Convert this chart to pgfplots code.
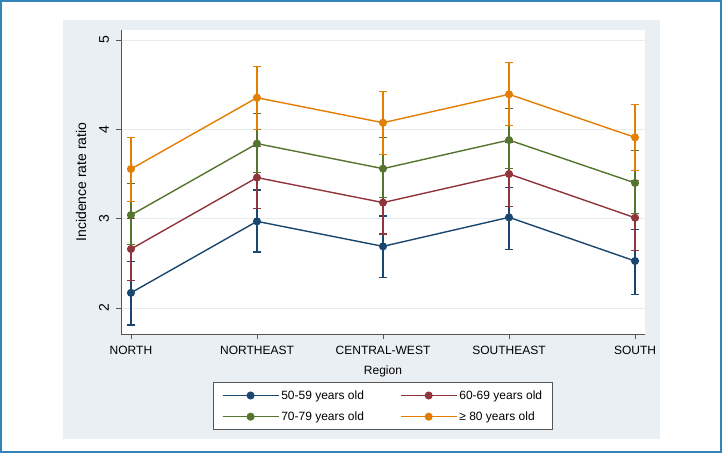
\documentclass[border=0pt]{standalone}
\usepackage{fontspec}
\setmainfont{Liberation Sans}
\usepackage{pgfplots}
\usepackage{pgfplotstable}
\pgfplotsset{compat=1.18}

\definecolor{frameblue}{RGB}{52,132,186}
\definecolor{panel}{RGB}{233,239,242}
\definecolor{gridc}{RGB}{230,237,240}
\definecolor{axisc}{RGB}{85,85,85}
\definecolor{snavy}{RGB}{26,71,111}
\definecolor{smaroon}{RGB}{144,53,59}
\definecolor{sgreen}{RGB}{85,117,47}
\definecolor{sorange}{RGB}{227,126,0}

% region index, incidence rate ratio, lower and upper 95% limits
\pgfplotstableread{
x  y      lo     hi
0  2.170  1.810  2.520
1  2.970  2.627  3.320
2  2.690  2.340  3.030
3  3.015  2.657  3.350
4  2.526  2.150  2.880
}\agefifty
\pgfplotstableread{
x  y      lo     hi
0  2.660  2.310  3.000
1  3.460  3.110  3.810
2  3.180  2.830  3.560
3  3.500  3.140  3.850
4  3.010  2.640  3.430
}\agesixty
\pgfplotstableread{
x  y      lo     hi
0  3.040  2.710  3.390
1  3.840  3.520  4.180
2  3.560  3.240  3.910
3  3.880  3.560  4.230
4  3.400  3.060  3.760
}\ageseventy
\pgfplotstableread{
x  y      lo     hi
0  3.556  3.190  3.906
1  4.354  4.000  4.700
2  4.074  3.720  4.420
3  4.392  4.040  4.750
4  3.910  3.540  4.280
}\ageeighty

\begin{document}
\begin{tikzpicture}[x=1pt,y=1pt]
  % page frame and graph region
  \fill[white] (0,0) rectangle (722,453);
  \draw[frameblue, line width=1.6pt] (0.8,0.8) rectangle (721.2,452.2);
  \fill[panel] (63,14) rectangle (660,433);

  \begin{axis}[
    at={(121pt,119pt)}, anchor=south west,
    scale only axis, width=524pt, height=304pt,
    xmin=-0.079, xmax=4.079, ymin=1.709, ymax=5.112,
    axis lines*=left,
    axis line style={axisc, line width=0.9pt},
    axis background/.style={fill=white},
    tick align=outside, major tick length=5pt,
    tick style={axisc, line width=0.9pt},
    xtick={0,1,2,3,4},
    xticklabels={NORTH,NORTHEAST,CENTRAL-WEST,SOUTHEAST,SOUTH},
    ytick={2,3,4,5},
    ymajorgrids,
    grid style={gridc, line width=0.9pt},
    /pgf/number format/assume math mode=true,
    xticklabel style={font=\fontsize{12}{14}\selectfont, anchor=base, inner sep=0pt, yshift=-15pt},
    yticklabel style={font=\fontsize{14}{16}\selectfont, inner sep=0pt, xshift=-7pt, rotate=90, anchor=base},
    xlabel={Region},
    ylabel={Incidence rate ratio},
    every axis x label/.style={at={(rel axis cs:0.5,0)}, anchor=center, yshift=-37pt, font=\fontsize{12}{14}\selectfont},
    every axis y label/.style={at={(rel axis cs:0,0.5)}, xshift=-40pt, rotate=90, anchor=center, font=\fontsize{14}{16}\selectfont},
    clip=false,
    legend columns=2,
    legend cell align=left,
    legend style={
      at={(rel axis cs:0.5,0)}, anchor=north, yshift=-48pt,
      draw=axisc, line width=0.8pt, fill=white,
      font=\fontsize{12}{14}\selectfont,
      inner xsep=8pt, inner ysep=6pt,
      row sep=7pt,
      /tikz/every even column/.append style={column sep=34pt},
      nodes={inner sep=2pt},
    },
    legend image code/.code={
      \draw[line width=1.4pt] (0pt,0pt) -- (56pt,0pt);
      \fill (28pt,0pt) circle (3.3pt);
    },
    every axis plot/.append style={
      line width=1.4pt,
      mark=*, mark size=3.3pt,
      error bars/y dir=both,
      error bars/y explicit,
      error bars/error bar style={line width=1.3pt},
      error bars/error mark options={rotate=90, mark size=3.6pt, line width=1.3pt},
    },
  ]
    \addplot[snavy, mark options={fill=snavy, draw=snavy}]
      table[x=x, y=y, y error plus expr=\thisrow{hi}-\thisrow{y}, y error minus expr=\thisrow{y}-\thisrow{lo}] {\agefifty};
    \addlegendentry{50-59 years old}
    \addplot[smaroon, mark options={fill=smaroon, draw=smaroon}]
      table[x=x, y=y, y error plus expr=\thisrow{hi}-\thisrow{y}, y error minus expr=\thisrow{y}-\thisrow{lo}] {\agesixty};
    \addlegendentry{60-69 years old}
    \addplot[sgreen, mark options={fill=sgreen, draw=sgreen}]
      table[x=x, y=y, y error plus expr=\thisrow{hi}-\thisrow{y}, y error minus expr=\thisrow{y}-\thisrow{lo}] {\ageseventy};
    \addlegendentry{70-79 years old}
    \addplot[sorange, mark options={fill=sorange, draw=sorange}]
      table[x=x, y=y, y error plus expr=\thisrow{hi}-\thisrow{y}, y error minus expr=\thisrow{y}-\thisrow{lo}] {\ageeighty};
    \addlegendentry{≥ 80 years old}
  \end{axis}

  \pgfresetboundingbox
  \path[use as bounding box] (0,0) rectangle (722,453);
\end{tikzpicture}
\end{document}
